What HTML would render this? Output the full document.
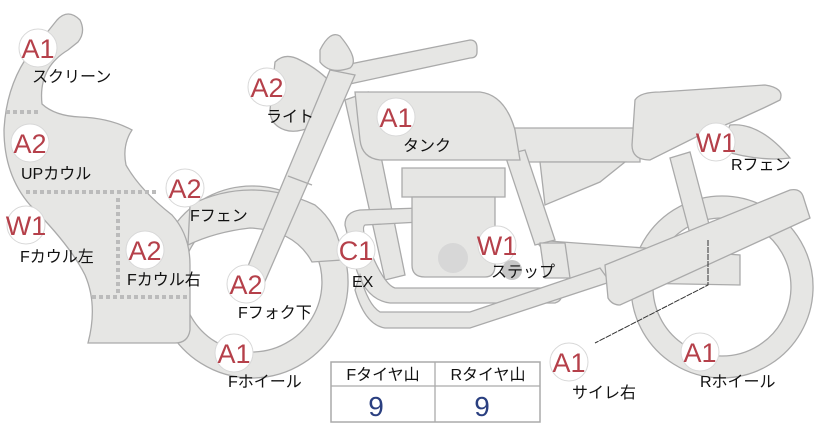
<!DOCTYPE html>
<html><head><meta charset="utf-8"><style>
html,body{margin:0;padding:0;background:#fff;width:822px;height:425px;overflow:hidden}
svg{display:block}
.p{fill:#e6e6e4;stroke:#aaa;stroke-width:1.3}
.c{fill:#fff;stroke:#d8d8d8;stroke-width:1}
.ct{font-family:"Liberation Sans",sans-serif;font-size:27px;fill:#b5404a;text-anchor:middle}
.l{font-family:"Liberation Sans","Noto Sans CJK JP",sans-serif;font-size:16px;fill:#111}
</style></head><body>
<svg width="822" height="425" viewBox="0 0 822 425">
<path class="p" fill-rule="evenodd" d="M252,186 a96,96 0 1,0 0.1,0 Z M252,212 a70,70 0 1,1 -0.1,0 Z"/>
<path class="p" fill-rule="evenodd" d="M722,196 a91,91 0 1,0 0.1,0 Z M722,218 a69,69 0 1,1 -0.1,0 Z"/>
<path class="p" d="M190,205 Q250,175 315,205 Q340,225 342,260 L312,262 Q295,230 250,228 Q215,232 188,245 Z"/>
<path class="p" d="M57,20 Q68,8 80,20 Q86,32 78,42 L68,50 Q38,68 42,104 Q55,116 80,117 Q110,118 132,130 Q122,145 126,165 Q140,190 172,215 Q190,235 190,265 L190,330 Q188,343 175,343 L88,343 Q98,305 85,275 Q70,245 30,205 Q4,175 4,130 Q6,90 25,60 Z"/>
<g stroke="#bbb" stroke-width="4" stroke-dasharray="4,3" fill="none">
<path d="M6,112 H40"/><path d="M26,192 H158"/><path d="M118,198 V293"/><path d="M92,297 H188"/>
</g>
<path class="p" d="M512,128 L640,128 L640,162 L512,162 Z"/>
<path class="p" d="M540,162 L625,162 L600,182 L545,205 Z"/>
<path class="p" d="M730,125 Q760,122 790,158 Q760,162 720,150 Z"/>
<path class="p" d="M635,100 Q640,92 660,92 L765,85 Q785,88 780,100 Q740,120 700,135 L650,160 Q632,160 632,145 Z"/>
<path class="p" d="M670,158 L690,152 L710,228 L690,234 Z"/>
<path class="p" d="M535,240 L740,255 L740,285 L570,282 Z"/>
<path class="p" d="M345,100 L368,92 L405,275 L385,280 Z"/>
<path class="p" d="M505,155 L525,150 L555,240 L535,245 Z"/>
<path class="p" d="M345,225 Q345,212 360,210 L420,208 L420,222 L365,225 Q360,228 372,255 Q385,285 395,288 L560,288 Q565,300 555,303 L390,303 Q365,300 355,265 Z"/>
<path class="p" d="M360,275 Q368,305 380,312 L470,312 L600,268 L610,282 L470,328 L385,328 Q365,325 355,290 Z"/>
<path class="p" d="M402,168 L505,168 L505,197 L402,197 Z"/>
<path class="p" d="M412,197 L495,197 L495,265 Q495,277 485,277 L425,277 Q412,277 412,265 Z"/>
<circle cx="453" cy="258" r="15" fill="#d7d7d7"/>
<circle cx="512" cy="270" r="10" fill="#c6c6c6"/><circle cx="555" cy="265" r="8" fill="#c6c6c6"/>
<path class="p" d="M540,243 L565,243 L570,278 L545,278 Z"/>
<path class="p" d="M355,92 L480,92 Q505,95 515,130 L520,160 L380,160 Q362,158 360,140 Z"/>
<path class="p" d="M605,265 L790,190 Q800,188 803,196 L810,218 L620,305 Q612,305 608,298 Z"/>
<path class="p" d="M330,68 L470,40 Q477,40 477,48 L477,52 Q477,58 470,58 L345,85 Z"/>
<path class="p" d="M320,50 Q330,30 340,36 Q360,60 350,68 Q330,75 320,62 Z"/>
<path class="p" d="M275,62 Q285,52 300,60 Q320,70 333,85 Q338,110 325,120 Q300,135 285,130 Q270,125 270,110 Z"/>
<path class="p" d="M330,70 L355,75 L262,288 Q255,295 245,290 Q240,284 243,278 Z"/>
<path d="M288,176 L312,185" stroke="#aaa" stroke-width="1.3"/>
<path d="M708,240 V285 L595,343" stroke="#333" stroke-width="1" fill="none" stroke-dasharray="6,1"/>
<g>
<circle class="c" cx="38" cy="48" r="19"/><text class="ct" x="38" y="58">A1</text>
<circle class="c" cx="30" cy="143" r="19"/><text class="ct" x="30" y="153">A2</text>
<circle class="c" cx="26" cy="225" r="19"/><text class="ct" x="26" y="235">W1</text>
<circle class="c" cx="145" cy="250" r="19"/><text class="ct" x="145" y="260">A2</text>
<circle class="c" cx="185" cy="188" r="19"/><text class="ct" x="185" y="198">A2</text>
<circle class="c" cx="267" cy="87" r="19"/><text class="ct" x="267" y="97">A2</text>
<circle class="c" cx="246" cy="284" r="19"/><text class="ct" x="246" y="294">A2</text>
<circle class="c" cx="234" cy="353" r="19"/><text class="ct" x="234" y="363">A1</text>
<circle class="c" cx="356" cy="250" r="19"/><text class="ct" x="356" y="260">C1</text>
<circle class="c" cx="396" cy="117" r="19"/><text class="ct" x="396" y="127">A1</text>
<circle class="c" cx="497" cy="245" r="19"/><text class="ct" x="497" y="255">W1</text>
<circle class="c" cx="716" cy="142" r="19"/><text class="ct" x="716" y="152">W1</text>
<circle class="c" cx="569" cy="362" r="19"/><text class="ct" x="569" y="372">A1</text>
<circle class="c" cx="700" cy="352" r="19"/><text class="ct" x="700" y="362">A1</text>
</g>
<text class="l" x="32" y="82">スクリーン</text>
<text class="l" x="21" y="179">UPカウル</text>
<text class="l" x="20" y="262">Fカウル左</text>
<text class="l" x="127" y="285">Fカウル右</text>
<text class="l" x="190" y="221">Fフェン</text>
<text class="l" x="266" y="122">ライト</text>
<text class="l" x="238" y="318">Fフォク下</text>
<text class="l" x="228" y="387">Fホイール</text>
<text class="l" x="352" y="287">EX</text>
<text class="l" x="403" y="151">タンク</text>
<text class="l" x="491" y="277">ステップ</text>
<text class="l" x="731" y="170">Rフェン</text>
<text class="l" x="572" y="398">サイレ右</text>
<text class="l" x="700" y="387">Rホイール</text>
<rect x="331" y="362" width="209" height="60" fill="#fff" stroke="#aaa" stroke-width="1.5"/>
<line x1="331" y1="386" x2="540" y2="386" stroke="#aaa" stroke-width="1.3"/>
<line x1="435" y1="362" x2="435" y2="422" stroke="#aaa" stroke-width="1.3"/>
<text class="l" x="383" y="380" text-anchor="middle">Fタイヤ山</text>
<text class="l" x="488" y="380" text-anchor="middle">Rタイヤ山</text>
<text x="376" y="416" font-family="Liberation Sans,sans-serif" font-size="28" fill="#2a3f80" text-anchor="middle">9</text>
<text x="482" y="416" font-family="Liberation Sans,sans-serif" font-size="28" fill="#2a3f80" text-anchor="middle">9</text>
</svg>
</body></html>
